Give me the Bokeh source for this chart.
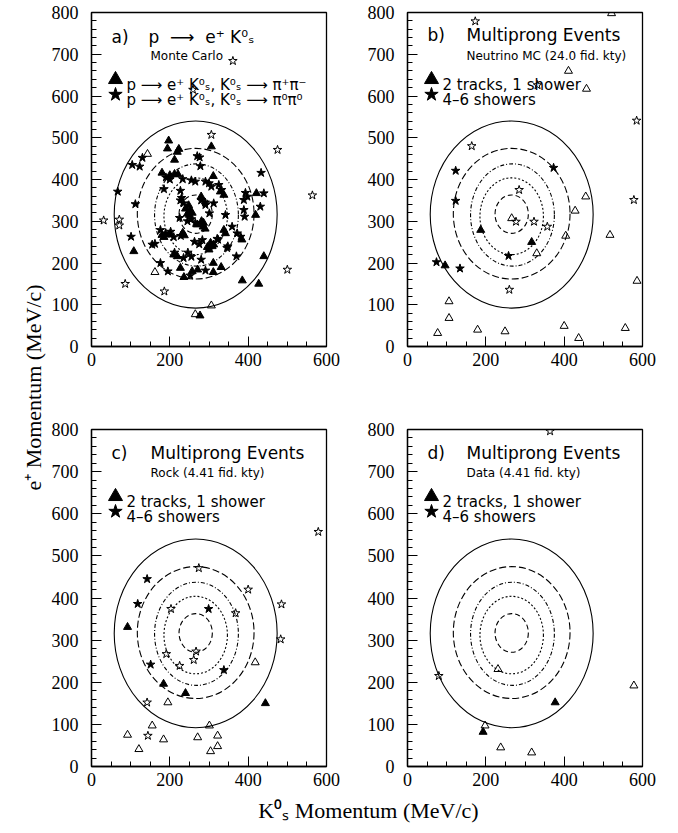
import math
from bokeh.plotting import figure
from bokeh.models import Range1d, FixedTicker
from bokeh.layouts import row, column
from bokeh.embed import file_html
from bokeh.resources import INLINE
from bokeh.core.properties import value

# ---------------- data ----------------
X_TICKS = [0, 200, 400, 600]
Y_TICKS = [0, 100, 200, 300, 400, 500, 600, 700, 800]

# probability contours (centre x, centre y, full width, full height)
ELL_X = [266, 266, 268, 266, 266]
ELL_Y = [316, 318, 315, 312, 317]
ELL_W = [416, 298, 214, 162, 85]
ELL_H = [448, 313, 245, 184, 92]
ELL_DASH = ["solid", "7 3", "4 2 1 2", "2 2", "5 3"]

# panel a) Monte Carlo
a_tri_fill_x = [197, 223, 306, 219, 194, 212, 180, 200, 212, 221, 311, 280, 329, 338, 421, 419,
                240, 248, 252, 257, 245, 250, 281, 286, 285, 290, 270, 180, 185, 199, 233, 237,
                304, 308, 312, 300, 296, 338, 342, 384, 108, 210, 219, 227, 257, 271, 311, 331,
                311, 236, 385, 427, 440, 277]
a_tri_fill_y = [493, 473, 479, 466, 474, 447, 416, 410, 413, 412, 408, 359, 371, 363, 367, 315,
                330, 338, 326, 320, 318, 315, 300, 296, 287, 282, 292, 267, 262, 268, 272, 266,
                248, 240, 244, 232, 238, 279, 271, 256, 228, 220, 216, 188, 180, 184, 200, 190,
                178, 166, 158, 150, 216, 74]
a_star_fill_x = [104, 123, 130, 270, 276, 278, 190, 200, 233, 255, 265, 185, 227, 291, 300, 325,
                 306, 332, 433, 393, 398, 440, 67, 112, 227, 235, 230, 280, 290, 291, 312, 389,
                 391, 342, 431, 301, 225, 245, 255, 265, 176, 189, 202, 210, 228, 359, 372, 381,
                 321, 346, 263, 275, 283, 101, 155, 162, 176, 212, 246, 235, 255, 280, 291, 323,
                 348, 370, 195, 252, 389]
a_star_fill_y = [435, 431, 452, 456, 453, 432, 405, 400, 401, 398, 395, 377, 373, 395, 391, 387,
                 383, 375, 416, 368, 359, 367, 371, 341, 350, 343, 356, 350, 345, 339, 343, 327,
                 311, 315, 335, 319, 308, 300, 305, 296, 279, 271, 275, 262, 265, 287, 271, 263,
                 258, 236, 251, 245, 255, 263, 244, 246, 200, 225, 225, 212, 215, 208, 182, 256,
                 240, 216, 180, 170, 351]
a_star_open_x = [361, 259, 306, 475, 31, 71, 71, 564, 500, 86, 186]
a_star_open_y = [684, 615, 507, 471, 302, 304, 290, 362, 184, 150, 132]
a_tri_open_x = [143, 162, 306, 265]
a_tri_open_y = [461, 178, 98, 77]

# panel b) Neutrino MC
b_tri_fill_x = [187, 317, 96]
b_tri_fill_y = [279, 250, 194]
b_tri_open_x = [521, 411, 457, 455, 428, 266, 517, 404, 586, 330, 106, 106, 77, 179, 249, 400, 437, 556]
b_tri_open_y = [798, 660, 617, 359, 325, 307, 267, 265, 157, 223, 108, 68, 32, 40, 36, 49, 20, 44]
b_star_fill_x = [123, 123, 373, 258, 74, 134]
b_star_fill_y = [421, 349, 428, 217, 202, 187]
b_star_open_x = [173, 332, 585, 578, 164, 285, 277, 323, 357, 260]
b_star_open_y = [779, 626, 541, 351, 480, 375, 299, 299, 287, 136]

# panel c) Rock
c_tri_fill_x = [92, 184, 240, 444]
c_tri_fill_y = [331, 196, 174, 150]
c_tri_open_x = [418, 195, 155, 301, 92, 121, 184, 271, 322, 322, 304]
c_tri_open_y = [247, 152, 97, 97, 75, 41, 64, 69, 73, 48, 36]
c_star_fill_x = [142, 118, 299, 151, 338]
c_star_fill_y = [445, 386, 374, 242, 229]
c_star_open_x = [579, 274, 400, 203, 368, 485, 483, 191, 267, 261, 225, 142, 144]
c_star_open_y = [557, 471, 420, 374, 364, 385, 302, 267, 273, 253, 239, 152, 73]

# panel d) Data
d_tri_fill_x = [193, 377]
d_tri_fill_y = [82, 152]
d_tri_open_x = [231, 198, 238, 317, 578]
d_tri_open_y = [231, 97, 45, 33, 192]
d_star_fill_x = []
d_star_fill_y = []
d_star_open_x = [80, 364]
d_star_open_y = [215, 796]

SANS = "DejaVu Sans"
SERIF = "Liberation Serif"
FW = 235  # frame width in px
NB = "\u00a0"


def make_panel(fh, top_b, bot_b, left_b, right_b, pts, label, title, subtitle, legend,
               legend_size, title_x, title_base):
    p = figure(width=left_b + FW + right_b, height=top_b + fh + bot_b,
               x_range=Range1d(0, 600), y_range=Range1d(0, 800),
               output_backend="svg", toolbar_location=None,
               min_border_left=left_b, min_border_right=right_b,
               min_border_top=top_b, min_border_bottom=bot_b)
    p.background_fill_color = "white"
    p.border_fill_color = "white"
    p.outline_line_color = "black"
    p.outline_line_width = 1.3
    p.xgrid.visible = False
    p.ygrid.visible = False

    p.xaxis.ticker = FixedTicker(ticks=X_TICKS, minor_ticks=list(range(0, 601, 50)))
    p.yaxis.ticker = FixedTicker(ticks=Y_TICKS, minor_ticks=list(range(0, 801, 20)))
    for ax in (p.xaxis, p.yaxis):
        ax.major_tick_in = 10
        ax.major_tick_out = 0
        ax.minor_tick_in = 5
        ax.minor_tick_out = 0
        ax.major_tick_line_color = "black"
        ax.minor_tick_line_color = "black"
        ax.axis_line_color = "black"
        ax.axis_line_width = 1.3
        ax.major_label_text_font = SERIF
        ax.major_label_text_font_size = "18px"
        ax.major_label_text_color = "black"
    p.xaxis.major_label_standoff = 6
    p.yaxis.major_label_standoff = 13

    for ex, ey, ew, eh, ed in zip(ELL_X, ELL_Y, ELL_W, ELL_H, ELL_DASH):
        p.ellipse(x=[ex], y=[ey], width=[ew], height=[eh], fill_color=None,
                  line_color="black", line_width=1.1, line_dash=ed)

    (tfx, tfy, tox, toy, sfx, sfy, sox, soy) = pts
    p.scatter(tfx, tfy, marker="triangle", size=8, fill_color="black", line_color="black")
    p.scatter(tox, toy, marker="triangle", size=8, fill_color=None, line_color="black", line_width=1)
    p.scatter(sfx, sfy, marker="star", size=9, fill_color="black", line_color="black")
    p.scatter(sox, soy, marker="star", size=9, fill_color=None, line_color="black", line_width=1)

    def X(ox):
        return ox * 600.0 / FW

    def Y(oy):
        return 800.0 - oy * 800.0 / fh

    p.text(x=[X(20)], y=[Y(title_base)], text=[label], text_font=value(SANS),
           text_font_size=value("17px"), text_baseline="alphabetic", text_color="black")
    p.text(x=[X(title_x)], y=[Y(title_base)], text=[title], text_font=value(SANS),
           text_font_size=value("17px"), text_baseline="alphabetic", text_color="black")
    p.text(x=[X(59)], y=[Y(43)], text=[subtitle], text_font=value(SANS),
           text_font_size=value("12px"), text_baseline="alphabetic", text_color="black")
    p.scatter([X(24)], [Y(67)], marker="triangle", size=14, fill_color="black", line_color="black")
    p.scatter([X(24)], [Y(82)], marker="star", size=14, fill_color="black", line_color="black")
    p.text(x=[X(35), X(35)], y=[Y(72), Y(87)], text=legend, text_font=value(SANS),
           text_font_size=value(legend_size), text_baseline="alphabetic", text_color="black")
    return p


LEG = ["2 tracks, 1 shower", "4\u20136 showers"]
ARROW = NB + "\u27f6" + NB

# row 1: 12 + 334 + 54 = 400 ; row 2: 29 + 337 + 30 = 396 ; x label strip 34 -> 830
pa = make_panel(334, 12, 54, 43, 38,
                (a_tri_fill_x, a_tri_fill_y, a_tri_open_x, a_tri_open_y,
                 a_star_fill_x, a_star_fill_y, a_star_open_x, a_star_open_y),
                "a)", "p" + NB + ARROW + NB + "e\u207a" + NB + "K\u2070\u209b", "Monte Carlo",
                ["p" + ARROW + "e\u207a K\u2070\u209b, K\u2070\u209b" + ARROW + "\u03c0\u207a\u03c0\u207b",
                 "p" + ARROW + "e\u207a K\u2070\u209b, K\u2070\u209b" + ARROW + "\u03c0\u2070\u03c0\u2070"],
                "15px", 57, 24)
pb = make_panel(334, 12, 54, 43, 20,
                (b_tri_fill_x, b_tri_fill_y, b_tri_open_x, b_tri_open_y,
                 b_star_fill_x, b_star_fill_y, b_star_open_x, b_star_open_y),
                "b)", "Multiprong Events", "Neutrino MC (24.0 fid. kty)", LEG, "15px", 59, 22)
pc = make_panel(337, 29, 30, 43, 38,
                (c_tri_fill_x, c_tri_fill_y, c_tri_open_x, c_tri_open_y,
                 c_star_fill_x, c_star_fill_y, c_star_open_x, c_star_open_y),
                "c)", "Multiprong Events", "Rock (4.41 fid. kty)", LEG, "15px", 59, 23)
pd_ = make_panel(337, 29, 30, 43, 20,
                 (d_tri_fill_x, d_tri_fill_y, d_tri_open_x, d_tri_open_y,
                  d_star_fill_x, d_star_fill_y, d_star_open_x, d_star_open_y),
                 "d)", "Multiprong Events", "Data (4.41 fid. kty)", LEG, "15px", 59, 23)


def strip(w, h, bl=0, bb=0):
    s = figure(width=w, height=h, x_range=Range1d(0, 1), y_range=Range1d(0, 1),
               output_backend="svg", toolbar_location=None,
               min_border_left=bl, min_border_right=0, min_border_top=0, min_border_bottom=bb)
    s.xgrid.visible = False
    s.ygrid.visible = False
    s.outline_line_color = None
    s.background_fill_color = "white"
    s.border_fill_color = "white"
    return s


def label_axis(ax, text, standoff):
    ax.ticker = FixedTicker(ticks=[])
    ax.major_tick_in = 0
    ax.major_tick_out = 0
    ax.minor_tick_in = 0
    ax.minor_tick_out = 0
    ax.major_label_standoff = 0
    ax.axis_line_color = None
    ax.axis_label = text
    ax.axis_label_standoff = standoff
    ax.axis_label_text_font = SERIF
    ax.axis_label_text_font_size = "22px"
    ax.axis_label_text_font_style = "normal"
    ax.axis_label_text_color = "black"


# y label: frame spans 0..774 so that the label centre sits at y = 387
ylab = strip(48, 830, bl=47, bb=56)
ylab.xaxis.visible = False
label_axis(ylab.yaxis[0], "e\u207a Momentum (MeV/c)", 2)

# x label: frame spans page x 74..662 -> label centred at x = 368
xlab = strip(614, 34, bl=26, bb=33)
xlab.yaxis.visible = False
label_axis(xlab.xaxis[0], "K\u2070\u209b Momentum (MeV/c)", 0)

layout = row(ylab, column(row(pa, pb), row(pc, pd_), xlab))

open("out.html", "w").write(file_html(layout, INLINE))
